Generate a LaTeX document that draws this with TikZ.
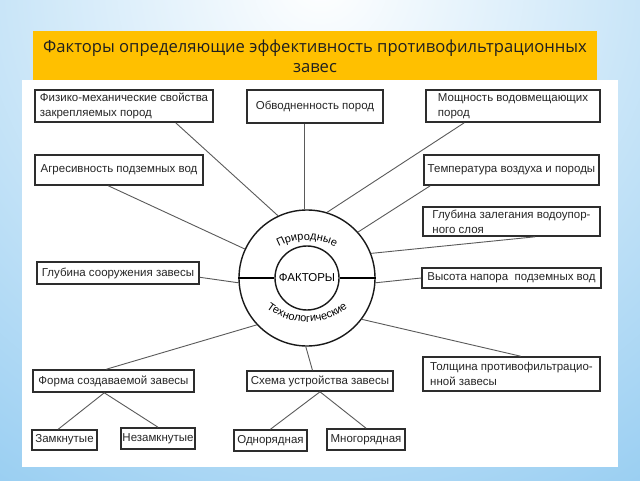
\documentclass[tikz,border=0pt]{standalone}
\usepackage{fontspec}
\setmainfont{Liberation Sans}
\newfontfamily\titlefont{Open Sans}
\usetikzlibrary{calc,decorations.text}
\definecolor{skyblue}{RGB}{140,200,240}
\definecolor{titleyellow}{RGB}{255,192,0}
\definecolor{boxline}{RGB}{45,45,45}
\definecolor{linkgray}{RGB}{90,90,90}
\newcommand\boxfont{\fontsize{11.5}{15}\selectfont}
\newcommand\arcfont{\fontsize{11}{12}\selectfont}
\tikzset{
	factor/.style={draw=boxline, line width=1.6pt, fill=white, inner sep=1pt, align=left, text=black!85, font=\boxfont},
	ring/.style={draw=black!90, circle, line width=1.4pt, inner sep=0pt},
	link/.style={draw=linkgray, line width=0.9pt}
}

\begin{document}
\begin{tikzpicture}[x=1pt, y=1pt]
		%%%%% BACKGROUND %%%%%
		\useasboundingbox (0,0) rectangle (640,480);
		\fill[skyblue] (0,0) rectangle (640,480);
		\begin{scope}
			\clip (0,0) rectangle (640,480);
			\shade[inner color=white, outer color=skyblue] (320,500) circle (680);
		\end{scope}
		\fill[titleyellow] (33,400) rectangle (597,449);
		\fill[white] (22,13) rectangle (618,400);
		\node[font=\titlefont\fontsize{16.6}{20}\selectfont, text=black!88, align=center] (title) at (315,424)
			{Факторы определяющие эффективность противофильтрационных\\завес};
		
		%%%%% CENTRE %%%%%
		\node[ring, minimum size=136] (outer) at (307,202) {};
		\node[ring, minimum size=64, font=\boxfont] (inner) at (307,202) {ФАКТОРЫ};
		\draw[line width=1.4pt] (outer.west) -- (inner.west);
		\draw[line width=1.4pt] (inner.east) -- (outer.east);
		\path[decorate, decoration={text along path, text align=center, text={|\arcfont|Природные}}]
			(outer.center) ++(0,-22) ++(132:60) arc[start angle=132, end angle=48, radius=60];
		\path[decorate, decoration={text along path, text align=center, text={|\arcfont|Технологические}}]
			(outer.center) ++(0,22) ++(225:66) arc[start angle=225, end angle=315, radius=66];
		
		%%%%% FACTORS %%%%%
		\node[factor, minimum width=178, minimum height=32] (phys) at (124,374) {Физико-механические свойства\\закрепляемых пород};
		\node[factor, minimum width=136, minimum height=33] (water) at (315,373.5) {Обводненность пород};
		\node[factor, minimum width=174, minimum height=32] (thick) at (513,374) {Мощность водовмещающих\\пород};
		\node[factor, minimum width=168, minimum height=30] (aggr) at (119,310) {Агресивность подземных вод};
		\node[factor, minimum width=175, minimum height=30] (temp) at (511.5,310) {Температура воздуха и породы};
		\node[factor, minimum width=177, minimum height=29] (aquic) at (511.5,258.5) {Глубина залегания водоупор-\\ного слоя};
		\node[factor, minimum width=162, minimum height=22] (depth) at (118,207) {Глубина сооружения завесы};
		\node[factor, minimum width=179, minimum height=20] (head) at (511.5,202) {Высота напора\ \ подземных вод};
		\node[factor, minimum width=177, minimum height=34] (width) at (511.5,106) {Толщина противофильтрацио-\\нной завесы};
		\node[factor, minimum width=161, minimum height=22] (form) at (113.5,99) {Форма создаваемой завесы};
		\node[factor, minimum width=146, minimum height=20] (scheme) at (320,99) {Схема устройства завесы};
		\node[factor, minimum width=65, minimum height=20] (closed) at (64.5,40) {Замкнутые};
		\node[factor, minimum width=74, minimum height=21] (open) at (158,41.5) {Незамкнутые};
		\node[factor, minimum width=73, minimum height=21] (single) at (270.5,39.5) {Однорядная};
		\node[factor, minimum width=78, minimum height=21] (multi) at (366,40.5) {Многорядная};
		
		%%%%% LINKS %%%%%
		\draw[link] (phys.-18) -- (outer.115);
		\draw[link] (outer.92) -- (outer.92 |- water.south);
		\draw[link] (thick.-161) -- (outer.73);
		\draw[link] (aggr.-124) -- (outer.155);
		\draw[link] (temp.-169) -- (outer.42);
		\draw[link] (aquic.-33) -- (outer.21);
		\draw[link] (depth.-3) -- (outer.184);
		\draw[link] (head.west) -- (outer.356);
		\draw[link] (width.63) -- (outer.323);
		\draw[link] (form.121) -- (outer.223);
		\draw[link] (scheme.125) -- (outer.269);
		\draw[link] (form.-128) -- (closed.120);
		\draw[link] (form.-128) -- (open.north);
		\draw[link] (scheme.south) -- (single.north);
		\draw[link] (scheme.south) -- (multi.north);
		%%%%% END %%%%%
	\end{tikzpicture}
\end{document}
